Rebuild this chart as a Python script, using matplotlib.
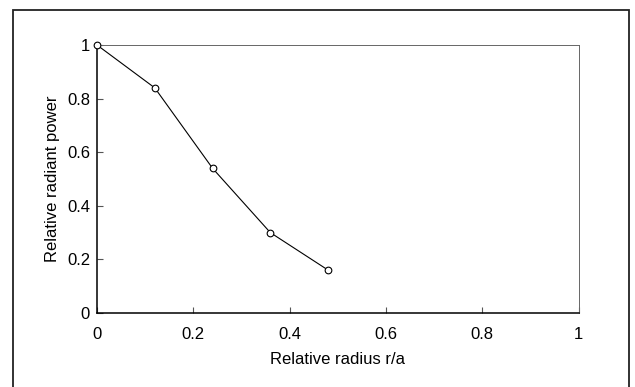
import matplotlib
matplotlib.use("Agg")
import matplotlib.pyplot as plt
from matplotlib.patches import Rectangle

radius = [0.0, 0.12, 0.24, 0.36, 0.48]
power = [1.0, 0.84, 0.54, 0.30, 0.16]
xticks = [0, 0.2, 0.4, 0.6, 0.8, 1]
xticklabels = ["0", "0.2", "0.4", "0.6", "0.8", "1"]
yticks = [0, 0.2, 0.4, 0.6, 0.8, 1]
yticklabels = ["0", "0.2", "0.4", "0.6", "0.8", "1"]

plt.rcParams['font.family'] = ['Liberation Sans', 'DejaVu Sans']

W, H = 635, 387
fig = plt.figure(figsize=(W / 100, H / 100), dpi=100)
fig.patch.set_facecolor('white')

# outer frame
fig.add_artist(Rectangle((12.5 / W, -0.05), (628.5 - 12.5) / W, 1.05 - 10 / H,
                         transform=fig.transFigure, fill=False,
                         edgecolor='#222222', linewidth=1.3))

ax = fig.add_axes([97 / W, 1 - 313 / H, (578.5 - 97) / W, (313 - 45) / H])
ax.plot(radius, power, color='black', linewidth=0.8, marker='o',
        markersize=4.8, markerfacecolor='white', markeredgecolor='black',
        markeredgewidth=0.8, clip_on=False, zorder=3)

ax.set_xlim(0, 1)
ax.set_ylim(0, 1)
ax.set_xticks(xticks)
ax.set_xticklabels(xticklabels)
ax.set_yticks(yticks)
ax.set_yticklabels(yticklabels)
ax.tick_params(direction='in', length=4, width=0.8, color='#555555',
               labelsize=12, pad=5)
ax.tick_params(axis='x', pad=10)

for side in ['left', 'bottom']:
    ax.spines[side].set_color('black')
    ax.spines[side].set_linewidth(1.1)
for side in ['top', 'right']:
    ax.spines[side].set_color('#666666')
    ax.spines[side].set_linewidth(0.7)

ax.set_xlabel('Relative radius r/a', fontsize=12, labelpad=7)
ax.set_ylabel('Relative radiant power', fontsize=12, labelpad=5)

fig.savefig('out.png', dpi=100)
